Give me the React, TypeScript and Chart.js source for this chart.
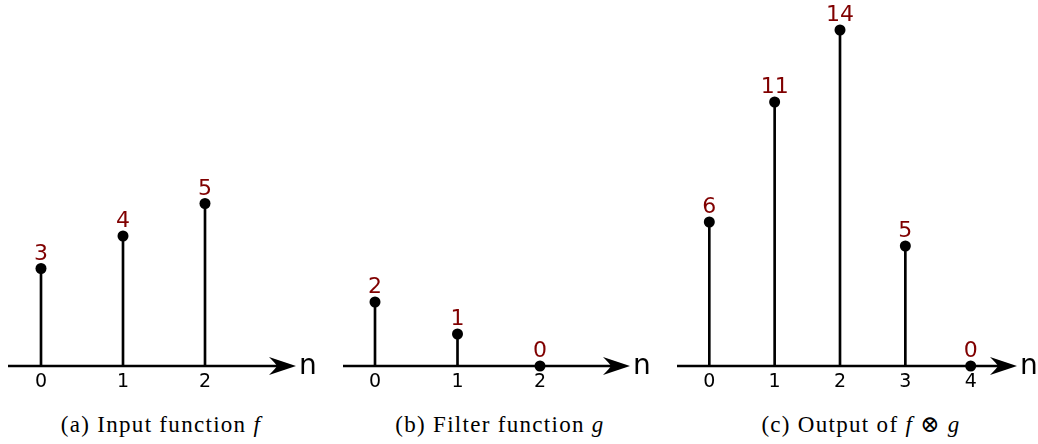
import React, { useEffect, useRef } from "react";
import { Chart, registerables } from "chart.js";

Chart.register(...registerables);

// ---- data ----
const fCategories = [0, 1, 2];
const fValues = [3, 4, 5];
const gCategories = [0, 1, 2];
const gValues = [2, 1, 0];
const outCategories = [0, 1, 2, 3, 4];
const outValues = [6, 11, 14, 5, 0];
const axisName = "n";
const captionA = ["(a) Input function ", "f"];
const captionB = ["(b) Filter function ", "g"];
const captionC = ["(c) Output of ", "f", " ⊗ ", "g"];

const LABEL_COLOR = "#800000";
const H = 400;

type Layout = {
  left: number;
  width: number;
  x0: number;
  step: number;
  axisStart: number;
  arrowTip: number;
  originY: number;
  ppu: number;
};

const layoutA: Layout = { left: 0, width: 330, x0: 41, step: 82, axisStart: 8, arrowTip: 296, originY: 366, ppu: 32.5 };
const layoutB: Layout = { left: 330, width: 335, x0: 45, step: 82.5, axisStart: 13, arrowTip: 300, originY: 366, ppu: 32 };
const layoutC: Layout = { left: 665, width: 373, x0: 44.3, step: 65.35, axisStart: 12, arrowTip: 352, originY: 366, ppu: 24 };

function StemPanel({ categories, values, layout }: { categories: number[]; values: number[]; layout: Layout }) {
  const ref = useRef<HTMLCanvasElement>(null);

  useEffect(() => {
    const canvas = ref.current;
    if (!canvas) return;
    const { width, x0, step, originY, ppu, axisStart, arrowTip } = layout;
    const xMin = -x0 / step;
    const xMax = (width - x0) / step;
    const yMin = -(H - originY) / ppu;
    const yMax = originY / ppu;

    const decor = {
      id: "stemDecor",
      beforeDatasetsDraw(chart: any) {
        const ctx = chart.ctx as CanvasRenderingContext2D;
        const xs = chart.scales.x;
        const ys = chart.scales.y;
        const y0 = ys.getPixelForValue(0);
        ctx.save();
        ctx.strokeStyle = "#000";
        ctx.lineWidth = 2.5;
        ctx.beginPath();
        ctx.moveTo(axisStart, y0);
        ctx.lineTo(arrowTip - 18, y0);
        ctx.stroke();
        ctx.fillStyle = "#000";
        ctx.beginPath();
        ctx.moveTo(arrowTip, y0);
        ctx.lineTo(arrowTip - 27, y0 - 9);
        ctx.quadraticCurveTo(arrowTip - 20, y0 - 2, arrowTip - 19, y0);
        ctx.quadraticCurveTo(arrowTip - 20, y0 + 2, arrowTip - 27, y0 + 9);
        ctx.closePath();
        ctx.fill();
        ctx.font = '28px "DejaVu Sans"';
        ctx.textAlign = "left";
        ctx.textBaseline = "alphabetic";
        ctx.fillText(axisName, arrowTip + 3, y0 + 8);
        ctx.font = '19px "DejaVu Sans"';
        ctx.textAlign = "center";
        categories.forEach((c) => {
          ctx.fillText(String(c), xs.getPixelForValue(c), y0 + 21);
        });
        ctx.restore();
      },
      afterDatasetsDraw(chart: any) {
        const ctx = chart.ctx as CanvasRenderingContext2D;
        const xs = chart.scales.x;
        const ys = chart.scales.y;
        ctx.save();
        ctx.fillStyle = LABEL_COLOR;
        ctx.font = '22px "DejaVu Sans"';
        ctx.textAlign = "center";
        ctx.textBaseline = "alphabetic";
        categories.forEach((c, i) => {
          ctx.fillText(String(values[i]), xs.getPixelForValue(c), ys.getPixelForValue(values[i]) - 9);
        });
        ctx.restore();
      },
    };

    const pts = categories.map((c, i) => ({ x: c, y: values[i] }));

    const chart = new Chart(canvas, {
      type: "bar",
      data: {
        datasets: [
          {
            type: "bar",
            data: pts,
            backgroundColor: "#000",
            borderWidth: 0,
            barThickness: 2,
            order: 2,
          } as any,
          {
            type: "scatter",
            data: pts,
            pointRadius: 5.5,
            pointBackgroundColor: "#000",
            pointBorderWidth: 0,
            showLine: false,
            order: 1,
          } as any,
        ],
      },
      options: {
        animation: false,
        responsive: false,
        devicePixelRatio: 1,
        events: [],
        layout: { padding: 0, autoPadding: false },
        plugins: { legend: { display: false }, tooltip: { enabled: false }, title: { display: false } },
        scales: {
          x: { type: "linear", min: xMin, max: xMax, display: false, offset: false },
          y: { type: "linear", min: yMin, max: yMax, display: false },
        },
      },
      plugins: [decor],
    });
    return () => chart.destroy();
  }, []);

  return (
    <canvas
      ref={ref}
      width={layout.width}
      height={H}
      style={{ position: "absolute", left: layout.left, top: 0, width: layout.width, height: H }}
    />
  );
}

function Caption({ parts, center }: { parts: string[]; center: number }) {
  return (
    <div
      style={{
        position: "absolute",
        left: center - 160,
        width: 320,
        top: 413,
        textAlign: "center",
        fontFamily: '"Liberation Serif", "DejaVu Serif", serif',
        fontSize: 23,
        lineHeight: "23px",
        letterSpacing: 1.3,
        whiteSpace: "pre",
        color: "#000",
      }}
    >
      {parts.map((p, i) =>
        p === "f" || p === "g" ? (
          <i key={i}>{p}</i>
        ) : (
          <span key={i}>{p}</span>
        )
      )}
    </div>
  );
}

export default function App() {
  return (
    <div style={{ position: "absolute", left: 0, top: 0, width: 1038, height: 444, background: "#fff", overflow: "hidden" }}>
      <StemPanel categories={fCategories} values={fValues} layout={layoutA} />
      <StemPanel categories={gCategories} values={gValues} layout={layoutB} />
      <StemPanel categories={outCategories} values={outValues} layout={layoutC} />
      <Caption parts={captionA} center={161} />
      <Caption parts={captionB} center={500} />
      <Caption parts={captionC} center={861} />
    </div>
  );
}
